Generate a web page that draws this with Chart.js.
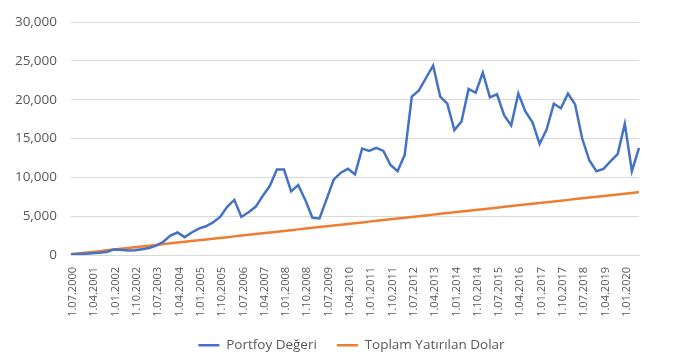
<!DOCTYPE html>
<html>
<head>
<meta charset="utf-8">
<script src="https://cdn.jsdelivr.net/npm/chart.js@4.4.0/dist/chart.umd.min.js"></script>
<style>
html,body{margin:0;padding:0;background:#fff;}
canvas{display:block;}
</style>
</head>
<body>
<canvas id="c" width="690" height="356"></canvas>
<script>
const categories = [
"1.07.2000","1.10.2000","1.01.2001","1.04.2001","1.07.2001","1.10.2001",
"1.01.2002","1.04.2002","1.07.2002","1.10.2002","1.01.2003","1.04.2003",
"1.07.2003","1.10.2003","1.01.2004","1.04.2004","1.07.2004","1.10.2004",
"1.01.2005","1.04.2005","1.07.2005","1.10.2005","1.01.2006","1.04.2006",
"1.07.2006","1.10.2006","1.01.2007","1.04.2007","1.07.2007","1.10.2007",
"1.01.2008","1.04.2008","1.07.2008","1.10.2008","1.01.2009","1.04.2009",
"1.07.2009","1.10.2009","1.01.2010","1.04.2010","1.07.2010","1.10.2010",
"1.01.2011","1.04.2011","1.07.2011","1.10.2011","1.01.2012","1.04.2012",
"1.07.2012","1.10.2012","1.01.2013","1.04.2013","1.07.2013","1.10.2013",
"1.01.2014","1.04.2014","1.07.2014","1.10.2014","1.01.2015","1.04.2015",
"1.07.2015","1.10.2015","1.01.2016","1.04.2016","1.07.2016","1.10.2016",
"1.01.2017","1.04.2017","1.07.2017","1.10.2017","1.01.2018","1.04.2018",
"1.07.2018","1.10.2018","1.01.2019","1.04.2019","1.07.2019","1.10.2019",
"1.01.2020","1.04.2020","1.07.2020"
];
const portfoyDegeri = [
100,120,160,220,300,380,
700,680,580,600,750,900,
1200,1700,2500,2900,2300,2900,
3400,3700,4200,4900,6200,7100,
4900,5500,6200,7600,8900,11000,
11000,8200,9000,7100,4800,4700,
7200,9700,10600,11100,10400,13700,
13400,13800,13400,11600,10800,12900,
20400,21200,22800,24400,20400,19500,
16100,17200,21400,20900,23500,20300,
20700,18000,16700,20800,18500,17100,
14300,16200,19500,18900,20800,19400,
15000,12200,10800,11100,12100,13000,
16900,10800,13800
];
const toplamYatirilan = [
100,200,300,400,500,600,
700,800,900,1000,1100,1200,
1300,1400,1500,1600,1700,1800,
1900,2000,2100,2200,2300,2400,
2500,2600,2700,2800,2900,3000,
3100,3200,3300,3400,3500,3600,
3700,3800,3900,4000,4100,4200,
4300,4400,4500,4600,4700,4800,
4900,5000,5100,5200,5300,5400,
5500,5600,5700,5800,5900,6000,
6100,6200,6300,6400,6500,6600,
6700,6800,6900,7000,7100,7200,
7300,7400,7500,7600,7700,7800,
7900,8000,8100
];
const seriesNames = ["Portfoy Değeri", "Toplam Yatırılan Dolar"];
const yTicks = [0, 5000, 10000, 15000, 20000, 25000, 30000];

const FONT = "'Open Sans', 'Liberation Sans', sans-serif";
const TXT = "#595959";

const legendShift = {
  id: 'legendShift',
  afterLayout(chart) {
    chart.legend.left += 32;
    chart.legend.right += 32;
  }
};

new Chart(document.getElementById('c'), {
  type: 'line',
  plugins: [legendShift],
  data: {
    labels: categories,
    datasets: [
      {label: seriesNames[0], data: portfoyDegeri, borderColor: '#4472C4', backgroundColor: '#4472C4',
       borderWidth: 2.5, pointRadius: 0, tension: 0, fill: false},
      {label: seriesNames[1], data: toplamYatirilan, borderColor: '#ED7D31', backgroundColor: '#ED7D31',
       borderWidth: 2.5, pointRadius: 0, tension: 0, fill: false}
    ]
  },
  options: {
    responsive: false,
    animation: false,
    devicePixelRatio: 1,
    layout: {padding: {left: 0, right: 51, top: 18, bottom: -6}},
    plugins: {
      tooltip: {enabled: false},
      legend: {
        position: 'bottom',
        labels: {
          usePointStyle: true,
          pointStyle: 'line',
          pointStyleWidth: 21,
          color: TXT,
          font: {family: FONT, size: 13.5},
          padding: 20
        }
      }
    },
    scales: {
      x: {
        type: 'category',
        offset: false,
        grid: {display: false, drawTicks: false},
        border: {display: true, color: '#d9d9d9', width: 1},
        ticks: {
          autoSkip: false,
          maxRotation: 90,
          minRotation: 90,
          padding: 12,
          labelOffset: 2,
          color: TXT,
          font: {family: FONT, size: 11},
          callback: function(v, i) { return i % 3 === 0 ? categories[i] : ''; }
        },
        afterFit: function(s) { s.height = 63.5; }
      },
      y: {
        min: 0,
        max: 30000,
        afterBuildTicks: function(s) { s.ticks = yTicks.map(v => ({value: v})); },
        grid: {color: '#d9d9d9', lineWidth: 1, drawTicks: false},
        border: {display: false},
        ticks: {
          padding: 14,
          color: TXT,
          font: {family: FONT, size: 13.5},
          callback: function(v) { return Number(v).toLocaleString('en-US'); }
        },
        afterFit: function(s) { s.width = 71; }
      }
    }
  }
});
</script>
</body>
</html>
